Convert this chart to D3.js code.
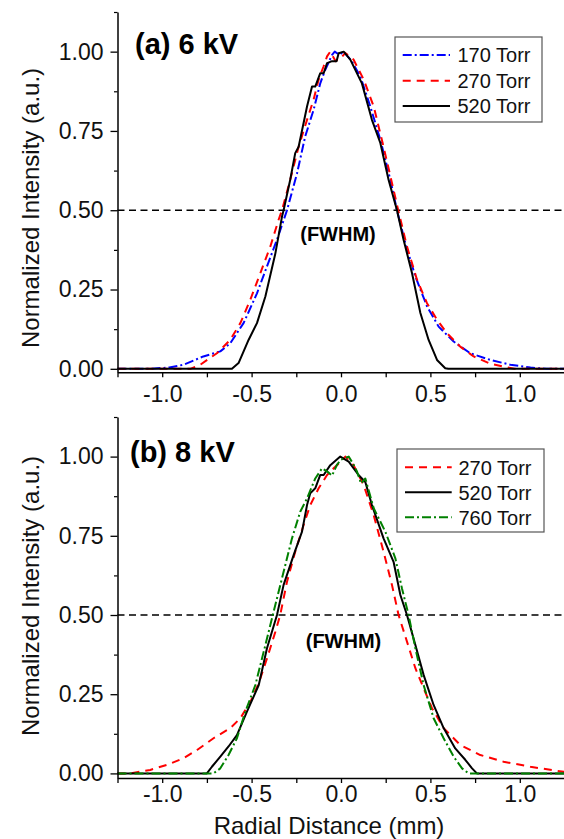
<!DOCTYPE html>
<html>
<head>
<meta charset="utf-8">
<script src="https://cdn.jsdelivr.net/npm/d3@7/dist/d3.min.js"></script>
<style>
  html, body { margin: 0; padding: 0; background: #fff; }
  svg { display: block; font-family: "Liberation Sans", Arial, sans-serif; }
</style>
</head>
<body>
<svg id="chart" width="564" height="839"></svg>
<script>
// ---------------- DATA ----------------
const xTickValues = [-1.25, -1.0, -0.75, -0.5, -0.25, 0.0, 0.25, 0.5, 0.75, 1.0, 1.25];
const xTickLabels = ["", "-1.0", "", "-0.5", "", "0.0", "", "0.5", "", "1.0", ""];
const yMajorTicks = [0, 0.25, 0.5, 0.75, 1.0];
const yTickLabels = ["0.00", "0.25", "0.50", "0.75", "1.00"];
const yMinorTicks = [0.125, 0.375, 0.625, 0.875, 1.125];

// Panel (a) 6 kV
const a170 = [[-1.25,0],[-1.07,0],[-0.96,0.004],[-0.88,0.013],[-0.77,0.039],[-0.675,0.055],[-0.62,0.08],[-0.545,0.144],[-0.47,0.238],[-0.414,0.323],[-0.358,0.407],[-0.302,0.5],[-0.246,0.616],[-0.2,0.733],[-0.153,0.817],[-0.116,0.9],[-0.088,0.943],[-0.05,0.99],[-0.035,1.0],[-0.01,0.99],[0.015,1.0],[0.06,0.97],[0.108,0.922],[0.164,0.827],[0.22,0.722],[0.276,0.596],[0.313,0.5],[0.36,0.396],[0.416,0.291],[0.481,0.197],[0.546,0.133],[0.63,0.086],[0.723,0.049],[0.835,0.028],[0.947,0.013],[1.06,0.004],[1.15,0],[1.25,0]];
const a270 = [[-1.25,0],[-0.843,0],[-0.787,0.013],[-0.694,0.049],[-0.62,0.091],[-0.563,0.144],[-0.507,0.218],[-0.451,0.302],[-0.395,0.386],[-0.349,0.47],[-0.33,0.5],[-0.284,0.596],[-0.237,0.70],[-0.19,0.785],[-0.153,0.849],[-0.125,0.912],[-0.097,0.954],[-0.078,0.985],[-0.06,1.0],[-0.03,0.97],[0.0,0.98],[0.024,0.996],[0.07,0.975],[0.127,0.912],[0.183,0.827],[0.238,0.70],[0.285,0.586],[0.32,0.5],[0.369,0.386],[0.425,0.281],[0.481,0.207],[0.537,0.155],[0.593,0.112],[0.667,0.07],[0.742,0.039],[0.835,0.016],[0.928,0.005],[0.97,0],[1.25,0]];
const a520 = [[-1.25,0],[-0.61,0],[-0.573,0.018],[-0.517,0.091],[-0.47,0.144],[-0.423,0.228],[-0.367,0.364],[-0.33,0.48],[-0.321,0.5],[-0.284,0.596],[-0.256,0.68],[-0.237,0.70],[-0.19,0.827],[-0.162,0.89],[-0.144,0.89],[-0.116,0.932],[-0.097,0.932],[-0.078,0.964],[-0.05,0.97],[-0.025,0.97],[-0.013,0.995],[0.015,1.0],[0.052,0.975],[0.117,0.90],[0.173,0.785],[0.22,0.712],[0.266,0.596],[0.313,0.5],[0.35,0.407],[0.397,0.302],[0.444,0.176],[0.49,0.091],[0.537,0.028],[0.583,0.002],[0.6,0],[1.25,0]];

// Panel (b) 8 kV
const b270 = [[-1.25,0],[-1.18,0],[-1.067,0.011],[-0.973,0.027],[-0.88,0.048],[-0.805,0.074],[-0.713,0.111],[-0.619,0.143],[-0.563,0.174],[-0.507,0.226],[-0.46,0.285],[-0.414,0.363],[-0.367,0.447],[-0.34,0.5],[-0.302,0.605],[-0.256,0.70],[-0.209,0.784],[-0.172,0.847],[-0.125,0.90],[-0.078,0.942],[-0.041,0.963],[0.0,0.985],[0.024,1.0],[0.07,0.973],[0.127,0.91],[0.183,0.815],[0.238,0.70],[0.285,0.595],[0.322,0.5],[0.369,0.416],[0.416,0.332],[0.462,0.269],[0.509,0.206],[0.574,0.143],[0.667,0.09],[0.779,0.058],[0.909,0.037],[1.059,0.021],[1.208,0.008],[1.25,0.005]];
const b520 = [[-1.25,0],[-0.75,0],[-0.722,0.021],[-0.675,0.053],[-0.629,0.085],[-0.582,0.121],[-0.526,0.195],[-0.46,0.279],[-0.414,0.395],[-0.358,0.5],[-0.321,0.595],[-0.265,0.689],[-0.218,0.763],[-0.19,0.847],[-0.172,0.884],[-0.144,0.90],[-0.116,0.942],[-0.097,0.942],[-0.06,0.973],[-0.004,1.0],[0.043,0.984],[0.098,0.942],[0.136,0.92],[0.173,0.847],[0.238,0.742],[0.294,0.668],[0.332,0.563],[0.369,0.5],[0.416,0.405],[0.462,0.311],[0.518,0.216],[0.574,0.143],[0.639,0.079],[0.695,0.043],[0.733,0.016],[0.76,0],[1.25,0]];
const b760 = [[-1.25,0],[-0.713,0],[-0.675,0.016],[-0.629,0.058],[-0.582,0.111],[-0.535,0.195],[-0.479,0.279],[-0.423,0.405],[-0.377,0.51],[-0.33,0.616],[-0.274,0.742],[-0.228,0.826],[-0.19,0.868],[-0.144,0.931],[-0.106,0.963],[-0.07,0.95],[-0.05,0.94],[-0.022,0.975],[0.0,0.99],[0.043,1.0],[0.07,0.975],[0.09,0.952],[0.112,0.915],[0.136,0.931],[0.183,0.837],[0.248,0.763],[0.304,0.679],[0.341,0.584],[0.378,0.5],[0.416,0.395],[0.462,0.279],[0.518,0.174],[0.574,0.111],[0.63,0.053],[0.677,0.016],[0.714,0],[1.25,0]];

const fwhmLevel = 0.5;
const panelTitles = ["(a) 6 kV", "(b) 8 kV"];

// ---------------- STYLES ----------------
const styles = {
  "170 Torr": { color: "#0000ff", dash: "9,3,2,3" },
  "270 Torr": { color: "#ff0000", dash: "8,6" },
  "520 Torr": { color: "#000000", dash: null },
  "760 Torr": { color: "#008000", dash: "9,3,2,3" }
};

const panels = [
  { title: panelTitles[0], series: [["170 Torr", a170], ["270 Torr", a270], ["520 Torr", a520]],
    yRange: [372.3, 12], yDomain: [-0.011, 1.125], xLabelY: 30,
    titleX: 135, titleY: 53.5,
    legend: { x: 395, y: 37, w: 147, h: 85, rows: [55, 80.7, 106], lx1: 402.7, lx2: 450, tx: 457.5 },
    fwhm: { x: 338, y: 240.5 }, yTitleY: 208 },
  { title: panelTitles[1], series: [["270 Torr", b270], ["520 Torr", b520], ["760 Torr", b760]],
    yRange: [778, 417], yDomain: [-0.0145, 1.125], xLabelY: 24,
    titleX: 130, titleY: 461.5,
    legend: { x: 397, y: 449, w: 147, h: 83, rows: [467.3, 492.3, 517.3], lx1: 405, lx2: 451.7, tx: 458.5 },
    fwhm: { x: 343.5, y: 647.5 }, yTitleY: 596 }
];

const svg = d3.select("#chart");
const x = d3.scaleLinear().domain([-1.25, 1.25]).range([117.5, 564.5]);

panels.forEach((p) => {
  const y = d3.scaleLinear().domain(p.yDomain).range(p.yRange);
  const g = svg.append("g");

  // reference line at half maximum
  g.append("line")
    .attr("x1", x(-1.25)).attr("x2", x(1.25))
    .attr("y1", y(fwhmLevel)).attr("y2", y(fwhmLevel))
    .attr("stroke", "#000").attr("stroke-width", 1.5)
    .attr("stroke-dasharray", "7,4.5");

  // curves
  const line = d3.line().x(d => x(d[0])).y(d => y(d[1]));
  p.series.forEach(([name, data]) => {
    const s = styles[name];
    g.append("path")
      .datum(data)
      .attr("d", line)
      .attr("fill", "none")
      .attr("stroke", s.color)
      .attr("stroke-width", 2)
      .attr("stroke-linejoin", "round")
      .attr("stroke-dasharray", s.dash);
  });

  // x axis
  const xAxis = d3.axisBottom(x)
    .tickValues(xTickValues)
    .tickFormat((d, i) => xTickLabels[i])
    .tickSize(5).tickSizeOuter(0);
  const gx = g.append("g")
    .attr("transform", `translate(0,${p.yRange[0]})`)
    .call(xAxis);
  gx.select(".domain").attr("stroke-width", 1.5);
  gx.selectAll(".tick line").attr("stroke-width", 1.3);
  gx.selectAll(".tick text")
    .attr("y", p.xLabelY).attr("dy", null)
    .attr("font-size", 23).attr("font-family", "'Liberation Sans', Arial, sans-serif")
    .attr("fill", "#111");

  // y axis major
  const yAxis = d3.axisLeft(y)
    .tickValues(yMajorTicks)
    .tickFormat((d, i) => yTickLabels[i])
    .tickSize(7).tickPadding(7).tickSizeOuter(0);
  const gy = g.append("g")
    .attr("transform", `translate(${x(-1.25)},0)`)
    .call(yAxis);
  gy.select(".domain").attr("stroke-width", 1.5);
  gy.selectAll(".tick line").attr("stroke-width", 1.3);
  gy.selectAll(".tick text")
    .attr("font-size", 23).attr("font-family", "'Liberation Sans', Arial, sans-serif")
    .attr("fill", "#111");
  // y minor ticks
  const yMinor = d3.axisLeft(y).tickValues(yMinorTicks).tickFormat("").tickSize(3.5).tickSizeOuter(0);
  const gym = g.append("g").attr("transform", `translate(${x(-1.25)},0)`).call(yMinor);
  gym.select(".domain").remove();
  gym.selectAll(".tick line").attr("stroke-width", 1.2);

  // y title
  g.append("text")
    .attr("transform", `translate(39,${p.yTitleY}) rotate(-90)`)
    .attr("text-anchor", "middle")
    .attr("font-size", 24)
    .attr("fill", "#111")
    .text("Normalized Intensity (a.u.)");

  // panel title
  g.append("text")
    .attr("x", p.titleX).attr("y", p.titleY)
    .attr("font-size", 29).attr("font-weight", "bold")
    .attr("fill", "#000")
    .text(p.title);

  // FWHM label
  g.append("text")
    .attr("x", p.fwhm.x).attr("y", p.fwhm.y)
    .attr("text-anchor", "middle")
    .attr("font-size", 20).attr("font-weight", "bold")
    .attr("fill", "#000")
    .text("(FWHM)");

  // legend
  const L = p.legend;
  g.append("rect")
    .attr("x", L.x).attr("y", L.y).attr("width", L.w).attr("height", L.h)
    .attr("fill", "#fff").attr("stroke", "#555").attr("stroke-width", 1.2);
  p.series.forEach(([name], i) => {
    const s = styles[name];
    g.append("line")
      .attr("x1", L.lx1).attr("x2", L.lx2)
      .attr("y1", L.rows[i]).attr("y2", L.rows[i])
      .attr("stroke", s.color).attr("stroke-width", 2)
      .attr("stroke-dasharray", s.dash);
    g.append("text")
      .attr("x", L.tx).attr("y", L.rows[i] + 7.3)
      .attr("font-size", 20).attr("fill", "#111")
      .text(name);
  });
});

// x axis title (shared, bottom)
svg.append("text")
  .attr("x", 329).attr("y", 834)
  .attr("text-anchor", "middle")
  .attr("font-size", 24).attr("fill", "#111")
  .text("Radial Distance (mm)");
</script>
</body>
</html>
